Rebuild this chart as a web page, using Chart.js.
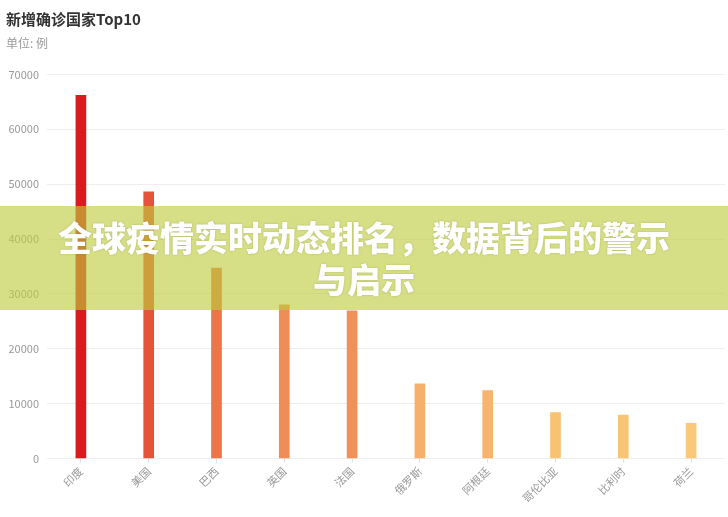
<!DOCTYPE html>
<html>
<head>
<meta charset="utf-8">
<script src="https://cdn.jsdelivr.net/npm/chart.js@4.4.1/dist/chart.umd.min.js"></script>
<style>
    body { margin: 0; background: #fff; }
    #wrap { position: relative; width: 728px; height: 517px; }
    #banner {
        position: absolute; left: 0; top: 206px; width: 728px; height: 104px;
        background: rgba(190, 204, 61, 0.63);
        color: #fff; text-align: center;
        font-family: "Noto Sans CJK SC", sans-serif; font-weight: 900;
        font-size: 34px; line-height: 42px;
        padding-top: 10px; box-sizing: border-box;
        text-shadow: 0 0 2px rgba(90, 90, 40, 0.35);
    }
</style>
</head>
<body>
<div id="wrap">
    <canvas id="chart" width="728" height="517"></canvas>
    <div id="banner">全球疫情实时动态排名，数据背后的警示<br>与启示</div>
</div>
<script>
// 新增确诊 Top10 数据
const countries = ["印度", "美国", "巴西", "英国", "法国", "俄罗斯", "阿根廷", "哥伦比亚", "比利时", "荷兰"];
const newCases = [66200, 48600, 34700, 28000, 26900, 13600, 12400, 8400, 7900, 6400];
const barColors = ["#da1b1d", "#e5533b", "#ec7549", "#f08c57", "#f09159", "#f5b16b", "#f6b46c", "#f8c273", "#f8c575", "#f9c878"];
const yTicks = [0, 10000, 20000, 30000, 40000, 50000, 60000, 70000];

Chart.defaults.font.family = '"Noto Sans CJK SC", "Noto Sans", sans-serif';

let ctx = document.getElementById("chart").getContext("2d");

new Chart(ctx, {
    type: "bar",
    data: {
        labels: countries,
        datasets: [{
            label: "新增确诊",
            data: newCases,
            backgroundColor: barColors,
            barThickness: 10
        }]
    },
    options: {
        responsive: false,
        animation: false,
        layout: { padding: { left: 6, right: 3, bottom: 10 } },
        plugins: {
            legend: { display: false },
            tooltip: { enabled: false },
            title: {
                display: true,
                text: "新增确诊国家Top10",
                align: "start",
                color: "#333",
                font: { size: 15, weight: "bold" },
                padding: { top: 10, bottom: 4 }
            },
            subtitle: {
                display: true,
                text: "单位: 例",
                align: "start",
                color: "#999",
                font: { size: 12 },
                padding: { top: 4, bottom: 24 }
            }
        },
        scales: {
            y: {
                min: 0,
                max: 70000,
                afterBuildTicks: axis => { axis.ticks = yTicks.map(v => ({ value: v })); },
                afterFit: axis => { axis.width = 41; },
                border: { display: false },
                grid: { color: "#eeeeee", drawTicks: false },
                ticks: { color: "#999", font: { size: 11 }, padding: 8, callback: v => String(v) }
            },
            x: {
                border: { display: false },
                grid: { offset: false, drawOnChartArea: false, tickLength: 4, color: "#e0e0e0" },
                ticks: { color: "#999", font: { size: 11 }, minRotation: 45, maxRotation: 45, padding: 2 }
            }
        }
    }
});
</script>
</body>
</html>
